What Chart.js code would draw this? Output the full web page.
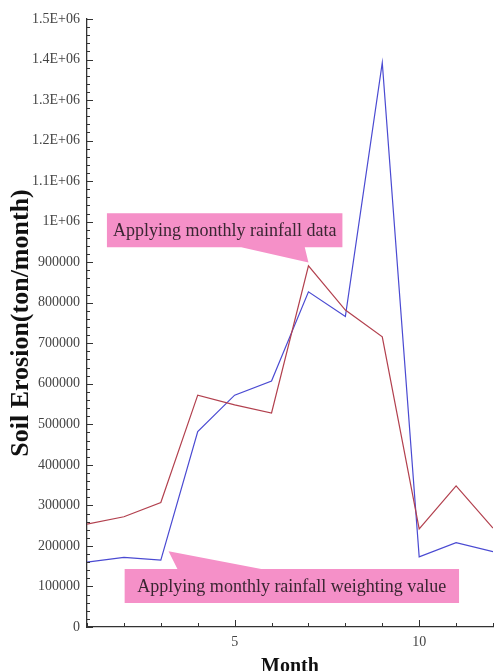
<!DOCTYPE html>
<html>
<head>
<meta charset="utf-8">
<title>Soil Erosion by Month</title>
<script src="https://cdn.jsdelivr.net/npm/chart.js@4/dist/chart.umd.min.js"></script>
<style>
  html, body { margin: 0; padding: 0; background: #ffffff; }
  #c { display: block; }
</style>
</head>
<body>
<canvas id="c" width="500" height="671"></canvas>
<script>
// Monthly soil erosion (ton/month)
const months = [1, 2, 3, 4, 5, 6, 7, 8, 9, 10, 11, 12];
const rainfallData = [254000, 272000, 307000, 572000, 548000, 528000, 891000, 782000, 716000, 242000, 348000, 244000];
const weightingData = [160000, 172000, 165000, 482000, 572000, 607000, 827000, 766000, 1392000, 173000, 208000, 186000];
const xLabelTicks = [5, 10];

const SERIF = '"Liberation Serif", "Times New Roman", serif';

function yTickLabel(v) {
  if (v >= 1000000) return (Math.round(v / 100000) / 10) + 'E+06';
  return String(v);
}

// Inward minor/major tick marks on both axes
const innerTicks = {
  id: 'innerTicks',
  afterDraw(chart) {
    const { ctx, scales: { x, y }, chartArea: a } = chart;
    ctx.save();
    ctx.strokeStyle = '#333';
    ctx.lineWidth = 1;
    ctx.beginPath();
    for (let v = 0; v <= y.max; v += 20000) {
      const py = Math.round(y.getPixelForValue(v)) + 0.5;
      const len = v % 100000 === 0 ? 6 : 3;
      ctx.moveTo(a.left, py);
      ctx.lineTo(a.left + len, py);
    }
    for (const m of months) {
      const px = Math.round(x.getPixelForValue(m)) + 0.5;
      const len = xLabelTicks.includes(m) ? 7 : 4;
      ctx.moveTo(px, a.bottom);
      ctx.lineTo(px, a.bottom - len);
    }
    ctx.stroke();
    ctx.restore();
  }
};

// Pink callout boxes with a pointer to the line they describe
const callouts = {
  id: 'callouts',
  afterDatasetsDraw(chart, args, opts) {
    const { ctx, scales: { x, y } } = chart;
    for (const it of opts.items) {
      const l = x.getPixelForValue(it.box[0]);
      const r = x.getPixelForValue(it.box[1]);
      const t = y.getPixelForValue(it.box[2]);
      const b = y.getPixelForValue(it.box[3]);
      const b0 = x.getPixelForValue(it.base[0]);
      const b1 = x.getPixelForValue(it.base[1]);
      const tx = x.getPixelForValue(it.tip[0]);
      const ty = y.getPixelForValue(it.tip[1]);
      ctx.save();
      ctx.fillStyle = opts.fill;
      ctx.beginPath();
      if (it.side === 'below') {
        ctx.moveTo(l, t); ctx.lineTo(r, t); ctx.lineTo(r, b);
        ctx.lineTo(b1, b); ctx.lineTo(tx, ty); ctx.lineTo(b0, b);
        ctx.lineTo(l, b);
      } else {
        ctx.moveTo(l, t); ctx.lineTo(b0, t); ctx.lineTo(tx, ty);
        ctx.lineTo(b1, t); ctx.lineTo(r, t); ctx.lineTo(r, b);
        ctx.lineTo(l, b);
      }
      ctx.closePath();
      ctx.fill();
      ctx.font = opts.font;
      ctx.fillStyle = opts.color;
      ctx.textAlign = 'center';
      ctx.textBaseline = 'middle';
      ctx.fillText(it.text, (l + r) / 2, (t + b) / 2 + 1);
      ctx.restore();
    }
  }
};

const toPoints = arr => months.map((m, i) => ({ x: m, y: arr[i] }));

new Chart(document.getElementById('c'), {
  type: 'line',
  data: {
    datasets: [
      {
        label: 'Applying monthly rainfall data',
        data: toPoints(rainfallData),
        borderColor: '#b2404e',
        borderWidth: 1.2
      },
      {
        label: 'Applying monthly rainfall weighting value',
        data: toPoints(weightingData),
        borderColor: '#4a4ad2',
        borderWidth: 1.2
      }
    ]
  },
  options: {
    responsive: false,
    animation: false,
    layout: { padding: { top: 19, right: 3, left: 0, bottom: 0 } },
    elements: { point: { radius: 0 }, line: { tension: 0 } },
    plugins: {
      legend: { display: false },
      tooltip: { enabled: false },
      callouts: {
        fill: '#f590c8',
        color: '#3a2632',
        font: '18px ' + SERIF,
        items: [
          {
            text: 'Applying monthly rainfall data',
            side: 'below',
            box: [1.54, 7.92, 1021000, 937000],
            base: [5.18, 6.9],
            tip: [months[6], rainfallData[6] + 8000]
          },
          {
            text: 'Applying monthly rainfall weighting value',
            side: 'above',
            box: [2.02, 11.08, 143000, 59000],
            base: [3.45, 5.72],
            tip: [months[2] + 0.21, weightingData[2] + 22000]
          }
        ]
      }
    },
    scales: {
      x: {
        type: 'linear',
        min: 1,
        max: 12,
        grid: { display: false, drawTicks: false },
        border: { display: true, color: '#333', width: 1.3 },
        ticks: {
          stepSize: 1,
          autoSkip: false,
          maxRotation: 0,
          padding: 7,
          color: '#444',
          font: { family: SERIF, size: 14 },
          callback: v => (xLabelTicks.includes(v) ? String(v) : '')
        },
        title: {
          display: true,
          text: 'Month',
          color: '#111',
          font: { family: SERIF, size: 20, weight: 'bold', lineHeight: 1 },
          padding: { top: 0, bottom: -6 }
        },
        afterFit: s => { s.height = 44; }
      },
      y: {
        min: 0,
        max: 1500000,
        grid: { display: false, drawTicks: false },
        border: { display: true, color: '#333', width: 1.3 },
        ticks: {
          stepSize: 100000,
          padding: 7,
          color: '#444',
          font: { family: SERIF, size: 14 },
          callback: yTickLabel
        },
        title: {
          display: true,
          text: 'Soil Erosion(ton/month)',
          color: '#111',
          font: { family: SERIF, size: 26, weight: 'bold' },
          padding: { top: 6, bottom: 0 }
        },
        afterFit: s => { s.width = 87; }
      }
    }
  },
  plugins: [callouts, innerTicks]
});
</script>
</body>
</html>
